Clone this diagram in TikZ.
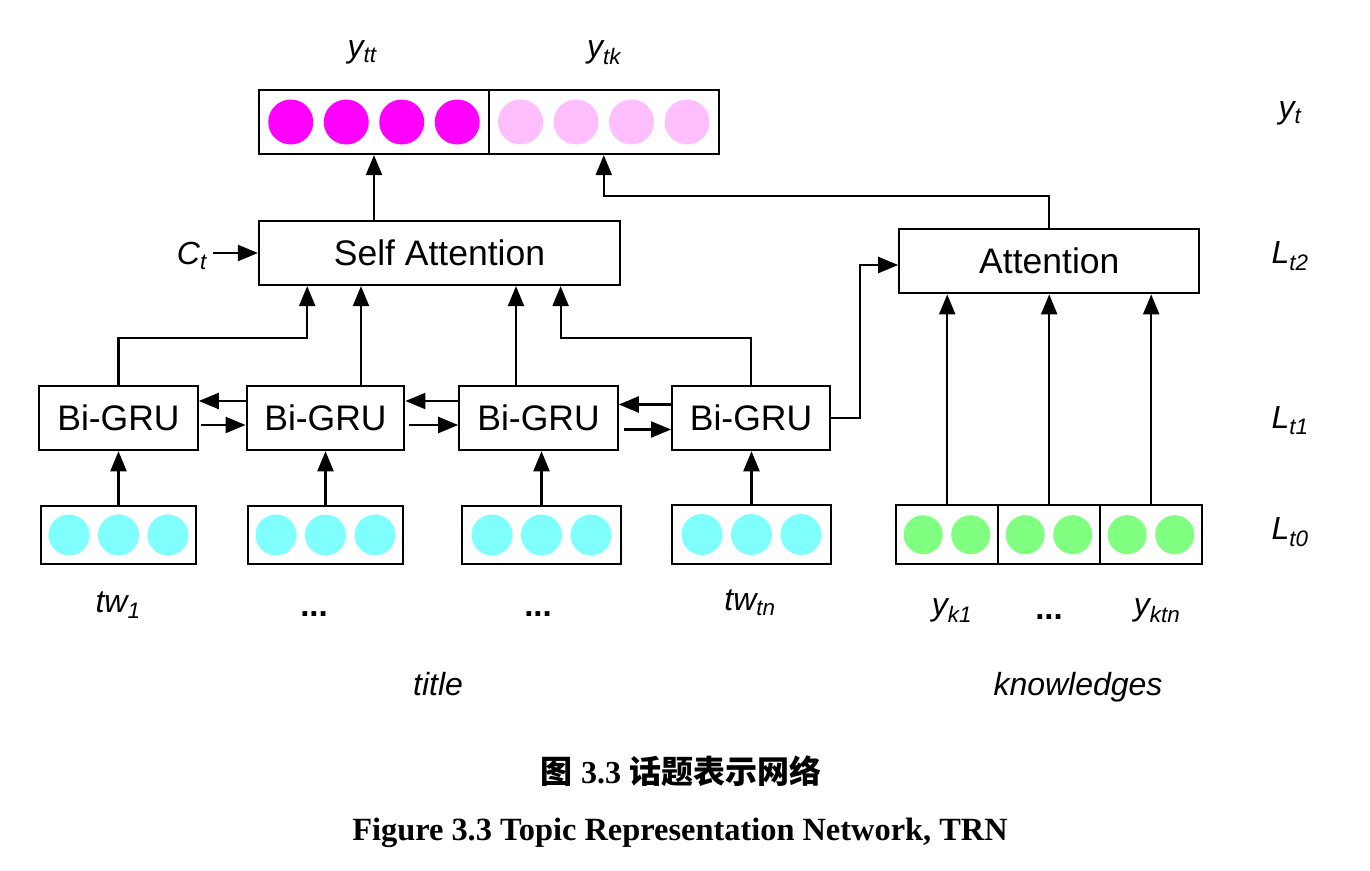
\documentclass[tikz,border=0pt]{standalone}
\usepackage{fontspec}
\setmainfont{Liberation Sans}
\newfontfamily\capfont{Liberation Serif}
\newfontfamily\cjk{Noto Sans CJK SC}
\usetikzlibrary{arrows.meta,calc}
\definecolor{mag}{HTML}{FF00FF}
\definecolor{pinkl}{HTML}{FFBFFF}
\definecolor{cyanl}{HTML}{80FFFF}
\definecolor{greenl}{HTML}{80FF80}
\newcommand\lsub[1]{\textsubscript{#1}}
\begin{document}
\begin{tikzpicture}[x=1pt,y=-1pt,
  box/.style={draw,line width=2.2pt,inner sep=0pt,font=\fontsize{35.5}{40}\selectfont},
  lab/.style={inner sep=0pt,anchor=base,font=\fontsize{32}{36}\selectfont\itshape},
  dots/.style={inner sep=0pt,anchor=base,font=\fontsize{33}{36}\selectfont\bfseries},
  arr/.style={line width=2.2pt,-{Triangle[length=20pt,width=16pt]}},
  ln/.style={line width=2.2pt}]
\useasboundingbox (0,0) rectangle (1370,870);

% ---- output vector
\node[box,minimum width=230pt,minimum height=64pt] (ytt) at (374,122) {};
\node[box,minimum width=229.6pt,minimum height=64pt] (ytk) at (603.8,122) {};
\foreach \o in {-83.25,-27.75,27.75,83.25}{
  \fill[mag] ($(ytt.center)+(\o,0)$) circle[radius=22.5pt];
  \fill[pinkl] ($(ytk.center)+(\o,0)$) circle[radius=22.5pt];
}
\node[lab] (lytt) at (362,57) {y\lsub{tt}};
\node[lab] (lytk) at (604,57) {y\lsub{tk}};

% ---- attention layers
\node[box,minimum width=361pt,minimum height=64pt] (sa) at (439.5,253) {Self Attention};
\node[box,minimum width=300pt,minimum height=64pt] (att) at (1049.3,261.3) {Attention};

% ---- Bi-GRU layer
\node[box,minimum width=158.4pt,minimum height=64.3pt] (bg1) at (118.5,418) {Bi-GRU};
\node[box,minimum width=157.6pt,minimum height=64.3pt] (bg2) at (325.5,418) {Bi-GRU};
\node[box,minimum width=158.4pt,minimum height=64.3pt] (bg3) at (538.5,418) {Bi-GRU};
\node[box,minimum width=157.7pt,minimum height=64.3pt] (bg4) at (751,418) {Bi-GRU};

% ---- word vectors
\node[box,minimum width=155pt,minimum height=58.6pt] (w1) at (118.5,535) {};
\node[box,minimum width=154.4pt,minimum height=58.6pt] (w2) at (325.5,535) {};
\node[box,minimum width=158.4pt,minimum height=58.6pt] (w3) at (541.5,535) {};
\node[box,minimum width=158.4pt,minimum height=58.6pt] (w4) at (751.5,534.5) {};
\foreach \w in {w1,w2,w3,w4}{
  \foreach \o in {-49.5,0,49.5}{
    \fill[cyanl] ($(\w.center)+(\o,0)$) circle[radius=20.5pt];
  }
}

% ---- knowledge vectors
\node[box,minimum width=102.3pt,minimum height=59.3pt] (k1) at (947.2,534.7) {};
\node[box,minimum width=101.7pt,minimum height=59.3pt] (k2) at (1049.2,534.7) {};
\node[box,minimum width=102.3pt,minimum height=59.3pt] (k3) at (1151.2,534.7) {};
\foreach \k in {k1,k2,k3}{
  \foreach \o in {-24,23.5}{
    \fill[greenl] ($(\k.center)+(\o,0)$) circle[radius=19.5pt];
  }
}

% ---- labels
\node[lab,anchor=base east] (ct) at (207,264) {C\lsub{t}};
\node[lab] (lyt) at (1290,118) {y\lsub{t}};
\node[lab] (l2) at (1290,263) {L\lsub{t2}};
\node[lab] (l1) at (1290,428) {L\lsub{t1}};
\node[lab] (l0) at (1290,539) {L\lsub{t0}};
\node[lab] (tw1) at (118,612) {tw\lsub{1}};
\node[dots] (d1) at (314,616) {...};
\node[dots] (d2) at (538,616) {...};
\node[lab] (twn) at (750,610) {tw\lsub{tn}};
\node[lab] (yk1) at (952,615) {y\lsub{k1}};
\node[dots] (d3) at (1049,619) {...};
\node[lab] (ykn) at (1157,615) {y\lsub{ktn}};
\node[lab] (ltitle) at (438,695) {title};
\node[lab] (lknow) at (1078,695) {knowledges};

% ---- captions
\node[font=\fontsize{32}{38}\selectfont\bfseries,inner sep=0pt] (cap1) at (681,771)
  {{\cjk 图} {\capfont 3.3} {\cjk 话题表示网络}};
\node[font=\capfont\bfseries\fontsize{32.4}{38}\selectfont,inner sep=0pt] (cap2) at (680,833)
  {Figure 3.3 Topic Representation Network, TRN};

% ---- connectors
\draw[arr] (ct.east |- sa.west) ++(6pt,0) coordinate (cts) (cts) -- (sa.west);
\draw[arr] (ytt.south |- sa.north) -- (ytt.south);
\draw[arr] (att.north) -- ++(0,-32.6) -| (ytk.south);

\draw[arr] (bg1.north) -- (bg1.north |- 0,338.3) -| ($(sa.south west)+(49.3,0)$);
\draw[arr] ([xshift=35.5pt]bg2.north) -- ([xshift=35.5pt]bg2.north |- sa.south);
\draw[arr] ([xshift=-22.5pt]bg3.north) -- ([xshift=-22.5pt]bg3.north |- sa.south);
\draw[arr] (bg4.north) -- (bg4.north |- 0,338.3) -| ($(sa.south west)+(302.7,0)$);

\draw[arr] ([yshift=17pt]bg2.west) -- ([yshift=17pt]bg1.east);
\draw[arr] ([yshift=-7pt,xshift=2pt]bg1.east) -- ([yshift=-7pt]bg2.west);
\draw[arr] ([yshift=17pt]bg3.west) -- ([yshift=17pt]bg2.east);
\draw[arr] ([yshift=-7pt,xshift=4pt]bg2.east) -- ([yshift=-7pt]bg3.west);
\draw[arr] ([yshift=13.5pt]bg4.west) -- ([yshift=13.5pt]bg3.east);
\draw[arr] ([yshift=-11.5pt,xshift=5pt]bg3.east) -- ([yshift=-11.5pt]bg4.west);

\draw[arr] (bg4.east) -- ++(29.3,0) |- ([yshift=-3.7pt]att.west);

\foreach \w/\b in {w1/bg1,w2/bg2,w3/bg3,w4/bg4}{
  \draw[arr] (\w.north) -- (\w.north |- \b.south);
}
\foreach \k in {k1,k2,k3}{
  \draw[arr] (\k.north) -- (\k.north |- att.south);
}
\end{tikzpicture}
\end{document}
